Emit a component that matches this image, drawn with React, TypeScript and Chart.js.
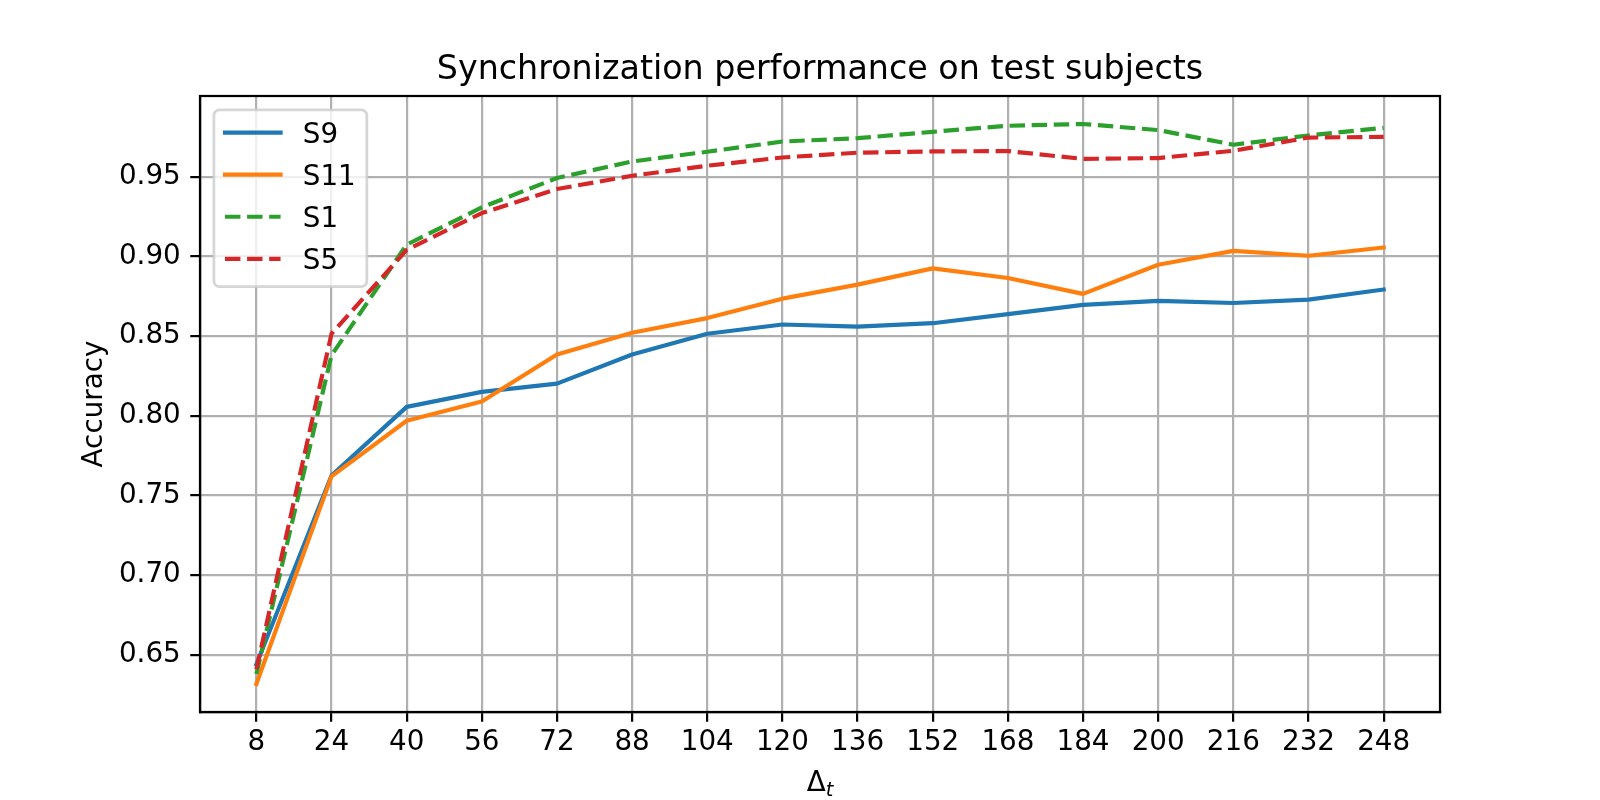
import React, { useEffect, useRef } from "react";
import { Chart, registerables } from "chart.js";

Chart.register(...registerables);

// ---- data ----
const deltaT = [8, 24, 40, 56, 72, 88, 104, 120, 136, 152, 168, 184, 200, 216, 232, 248];
const xTickLabels = ["8", "24", "40", "56", "72", "88", "104", "120", "136", "152", "168", "184", "200", "216", "232", "248"];
const yTickValues = [0.65, 0.7, 0.75, 0.8, 0.85, 0.9, 0.95];

const s9 = [0.644, 0.7625, 0.8056, 0.815, 0.8202, 0.8385, 0.8515, 0.8573, 0.856, 0.8581, 0.8638, 0.8696, 0.8721, 0.8708, 0.8729, 0.8792];
const s11 = [0.6317, 0.762, 0.7969, 0.809, 0.8385, 0.8521, 0.8613, 0.8735, 0.8823, 0.8925, 0.8865, 0.8765, 0.8948, 0.9035, 0.9004, 0.9056];
const s1 = [0.638, 0.838, 0.9074, 0.9308, 0.9492, 0.9596, 0.9657, 0.9721, 0.9742, 0.9782, 0.982, 0.9831, 0.9793, 0.9701, 0.9759, 0.9807];
const s5 = [0.641, 0.8515, 0.9041, 0.9272, 0.9423, 0.9506, 0.9569, 0.9621, 0.9651, 0.9659, 0.9661, 0.9612, 0.9617, 0.9663, 0.9746, 0.975];

const seriesLabels = ["S9", "S11", "S1", "S5"];
const seriesValues = [s9, s11, s1, s5];
const seriesColors = ["#1f77b4", "#ff7f0e", "#2ca02c", "#d62728"];
const seriesDashed = [false, false, true, true];

const titleText = "Synchronization performance on test subjects";
const yLabelText = "Accuracy";
const xLabelMain = "Δ";
const xLabelSub = "t";

// ---- style ----
const PX = 200 / 72;
const FONT = '"DejaVu Sans", sans-serif';
const LW = 1.5 * PX;
const DASH = [3.7 * LW, 1.6 * LW];

const decorPlugin = {
  id: "decor",
  afterDraw(chart: any) {
    const { ctx, chartArea: a } = chart;
    const fs = 10 * PX;
    ctx.save();

    // spines
    ctx.strokeStyle = "#000";
    ctx.lineWidth = 0.8 * PX;
    ctx.setLineDash([]);
    ctx.strokeRect(a.left, a.top, a.right - a.left, a.bottom - a.top);

    // title
    ctx.fillStyle = "#000";
    ctx.font = `${12 * PX}px ${FONT}`;
    ctx.textAlign = "center";
    ctx.textBaseline = "alphabetic";
    ctx.fillText(titleText, (a.left + a.right) / 2, a.top - 6 * PX);

    // y label
    ctx.save();
    ctx.translate(102, (a.top + a.bottom) / 2);
    ctx.rotate(-Math.PI / 2);
    ctx.font = `${fs}px ${FONT}`;
    ctx.textAlign = "center";
    ctx.fillText(yLabelText, 0, 0);
    ctx.restore();

    // x label  Δ_t
    ctx.font = `${fs}px ${FONT}`;
    const wMain = ctx.measureText(xLabelMain).width;
    const subFont = `oblique ${fs * 0.7}px ${FONT}`;
    ctx.font = subFont;
    const wSub = ctx.measureText(xLabelSub).width;
    const x0 = (a.left + a.right) / 2 - (wMain + wSub) / 2;
    ctx.textAlign = "left";
    ctx.font = `${fs}px ${FONT}`;
    ctx.fillText(xLabelMain, x0, 791);
    ctx.font = subFont;
    ctx.fillText(xLabelSub, x0 + wMain, 796);

    // legend
    ctx.font = `${fs}px ${FONT}`;
    const textW = Math.max(...seriesLabels.map((l) => ctx.measureText(l).width));
    const pad = 0.4 * fs;
    const hl = 2.0 * fs;
    const htp = 0.8 * fs;
    const bx = a.left + 0.5 * fs;
    const by = a.top + 0.5 * fs;
    const bw = pad + hl + htp + textW + pad;
    const bh = 176.7;
    const r = 0.2 * fs;
    ctx.beginPath();
    ctx.moveTo(bx + r, by);
    ctx.lineTo(bx + bw - r, by);
    ctx.arcTo(bx + bw, by, bx + bw, by + r, r);
    ctx.lineTo(bx + bw, by + bh - r);
    ctx.arcTo(bx + bw, by + bh, bx + bw - r, by + bh, r);
    ctx.lineTo(bx + r, by + bh);
    ctx.arcTo(bx, by + bh, bx, by + bh - r, r);
    ctx.lineTo(bx, by + r);
    ctx.arcTo(bx, by, bx + r, by, r);
    ctx.closePath();
    ctx.fillStyle = "rgba(255,255,255,0.8)";
    ctx.fill();
    ctx.strokeStyle = "rgba(204,204,204,0.8)";
    ctx.lineWidth = 1.0 * PX;
    ctx.stroke();

    seriesLabels.forEach((label, i) => {
      const cy = by + 22.7 + i * 42.1;
      const hx = bx + pad;
      ctx.beginPath();
      ctx.strokeStyle = seriesColors[i];
      ctx.lineWidth = LW;
      if (seriesDashed[i]) {
        ctx.lineCap = "butt";
        ctx.setLineDash(DASH);
      } else {
        ctx.lineCap = "square";
        ctx.setLineDash([]);
      }
      ctx.moveTo(hx, cy);
      ctx.lineTo(hx + hl, cy);
      ctx.stroke();
      ctx.setLineDash([]);
      ctx.fillStyle = "#000";
      ctx.textAlign = "left";
      ctx.textBaseline = "alphabetic";
      ctx.fillText(label, hx + hl + htp, cy + 10);
    });

    ctx.restore();
  },
};

export default function App() {
  const ref = useRef<HTMLCanvasElement | null>(null);

  useEffect(() => {
    document.body.style.margin = "0";
    const canvas = ref.current;
    if (!canvas) return;

    const all = seriesValues.flat();
    const dmin = Math.min(...all);
    const dmax = Math.max(...all);
    const ym = (dmax - dmin) * 0.05;
    const xm = (deltaT[deltaT.length - 1] - deltaT[0]) * 0.05;

    const datasets = seriesLabels.map((label, i) => ({
      label,
      data: deltaT.map((x, j) => ({ x, y: seriesValues[i][j] })),
      borderColor: seriesColors[i],
      backgroundColor: seriesColors[i],
      borderWidth: LW,
      borderDash: seriesDashed[i] ? DASH : [],
      borderCapStyle: seriesDashed[i] ? "butt" : "square",
      borderJoinStyle: "round",
      pointRadius: 0,
      pointHoverRadius: 0,
      tension: 0,
      fill: false,
      order: seriesLabels.length - 1 - i,
    }));

    const tickFont = { family: FONT, size: 10 * PX };
    const grid = {
      color: "#b0b0b0",
      lineWidth: 0.8 * PX,
      drawTicks: true,
      tickLength: 3.5 * PX,
      tickColor: "#000",
      tickWidth: 0.8 * PX,
    };

    const chart = new Chart(canvas, {
      type: "line",
      data: { datasets } as any,
      options: {
        animation: false,
        responsive: false,
        devicePixelRatio: 1,
        layout: { padding: { left: 0, top: 96, right: 160, bottom: 0 } },
        plugins: {
          legend: { display: false },
          title: { display: false },
          tooltip: { enabled: false },
        },
        scales: {
          x: {
            type: "linear",
            min: deltaT[0] - xm,
            max: deltaT[deltaT.length - 1] + xm,
            grid,
            border: { display: true, color: "#000", width: 0.8 * PX },
            ticks: {
              autoSkip: false,
              maxRotation: 0,
              minRotation: 0,
              padding: 4,
              color: "#000",
              font: tickFont,
              callback: (v: any) => {
                const k = deltaT.indexOf(Number(v));
                return k >= 0 ? xTickLabels[k] : "";
              },
            },
            afterBuildTicks: (s: any) => {
              s.ticks = deltaT.map((v) => ({ value: v }));
            },
            afterFit: (s: any) => {
              s.height = 88;
            },
          },
          y: {
            type: "linear",
            min: dmin - ym,
            max: dmax + ym,
            grid,
            border: { display: true, color: "#000", width: 0.8 * PX },
            ticks: {
              padding: 9.5,
              color: "#000",
              font: tickFont,
              callback: (v: any) => Number(v).toFixed(2),
            },
            afterBuildTicks: (s: any) => {
              s.ticks = yTickValues.map((v) => ({ value: v }));
            },
            afterFit: (s: any) => {
              s.width = 200;
            },
          },
        },
      } as any,
      plugins: [decorPlugin],
    });

    return () => chart.destroy();
  }, []);

  return (
    <div style={{ width: 1600, height: 800, background: "#fff" }}>
      <canvas ref={ref} width={1600} height={800} style={{ display: "block", width: 1600, height: 800 }} />
    </div>
  );
}
